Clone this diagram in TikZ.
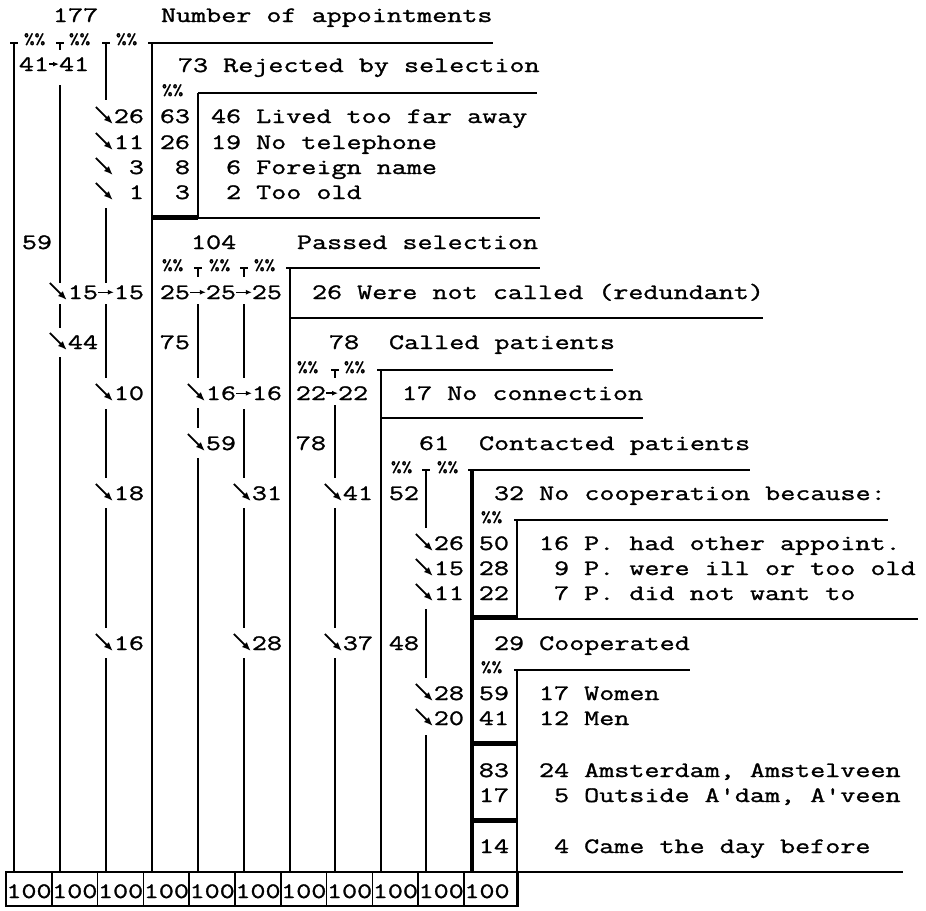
\documentclass[tikz,border=0pt]{standalone}
\usepackage{fontspec}
\usepackage{tikz}
\usetikzlibrary{arrows.meta}
\newfontfamily\tw[FakeStretch=1.33,FakeBold=1.3]{Latin Modern Mono}
\frenchspacing

\begin{document}
\begin{tikzpicture}[x=1pt, y=-1pt,
      tx/.style={inner sep=0, outer sep=0, font=\tw\fontsize{22}{22}\selectfont},
      nm/.style={tx, anchor=base east},
      lb/.style={tx, anchor=base west},
      pc/.style={inner sep=0, outer sep=0, anchor=base west, font=\tw\fontsize{15.5}{15.5}\selectfont},
      ln/.style={line width=2.3pt},
      tk/.style={line width=5pt},
      ar/.style={-{Latex[length=6pt,width=5pt]}, line width=1.5pt},
      da/.style={-{Latex[length=9pt,width=7pt]}, line width=1.8pt}]
  \useasboundingbox (0,0) rectangle (926,910);

  % header and rejected block
  \node[lb] (tot) at (53,22) {177};
  \node[lb] (ttl) at (161,22) {Number of appointments};
  \node[pc] (p0a) at (24,44) {\%\%}; \node[pc] (p0b) at (69,44) {\%\%}; \node[pc] (p0c) at (116,44) {\%\%};
  \node[nm] (a41) at (49,71) {41}; \node[lb] (b41) at (59,71) {41};
  \draw[ar] (a41) -- (b41);
  \node[lb] (rej) at (178,72) {73 Rejected by selection};
  \node[pc] (p1) at (162,95) {\%\%};
  \node[nm] (r26) at (144,123) {26}; \node[nm] (q63) at (190,123) {63}; \node[lb] (liv) at (211,123) {46 Lived too far away};
  \node[nm] (r11) at (144,149) {11}; \node[nm] (q26) at (190,149) {26}; \node[lb] (tel) at (211,149) {19 No telephone};
  \node[nm] (r3) at (144,174) {\hphantom{0}3}; \node[nm] (q8) at (190,174) {8}; \node[lb] (frn) at (211,174) {\hphantom{0}6 Foreign name};
  \node[nm] (r1) at (144,199) {\hphantom{0}1}; \node[nm] (q3) at (190,199) {3}; \node[lb] (old) at (211,199) {\hphantom{0}2 Too old};

  % passed selection
  \node[nm] (s59) at (52,249) {59};
  \node[lb] (pas) at (191,249) {104}; \node[lb] (pasl) at (297,249) {Passed selection};
  \node[pc] (p2a) at (162,270) {\%\%}; \node[pc] (p2b) at (209,270) {\%\%}; \node[pc] (p2c) at (254,270) {\%\%};
  \node[nm] (c15) at (98,299) {15}; \node[nm] (d15) at (144,299) {15};
  \node[nm] (e25) at (190,299) {25}; \node[nm] (f25) at (236,299) {25}; \node[nm] (g25) at (282,299) {25};
  \node[lb] (red) at (312,299) {26 Were not called (redundant)};
  \draw[ar] (c15) -- (d15); \draw[ar] (e25) -- (f25); \draw[ar] (f25) -- (g25);
  \node[nm] (c44) at (98,349) {44}; \node[nm] (e75) at (190,349) {75};
  \node[lb] (cal) at (329,349) {78}; \node[lb] (call) at (389,349) {Called patients};
  \node[pc] (p3a) at (297,372) {\%\%}; \node[pc] (p3b) at (344,372) {\%\%};
  \node[nm] (d10) at (144,400) {10}; \node[nm] (f16) at (236,400) {16}; \node[nm] (g16) at (282,400) {16};
  \node[nm] (h22) at (326,400) {22}; \node[lb] (i22) at (338,400) {22};
  \node[lb] (ncn) at (402,400) {17 No connection};
  \draw[ar] (f16) -- (g16); \draw[ar] (h22) -- (i22);
  \node[nm] (f59) at (236,450) {59}; \node[nm] (h78) at (326,450) {78};
  \node[lb] (con) at (419,450) {61}; \node[lb] (conl) at (479,450) {Contacted patients};
  \node[pc] (p4a) at (391,472) {\%\%}; \node[pc] (p4b) at (437,472) {\%\%};

  % contacted patients
  \node[nm] (d18) at (144,500) {18}; \node[nm] (g31) at (282,500) {31}; \node[nm] (i41) at (373,500) {41}; \node[nm] (j52) at (419,500) {52};
  \node[lb] (noc) at (494,500) {32 No cooperation because:};
  \node[pc] (p5) at (481,522) {\%\%};
  \node[nm] (k26) at (464,550) {26}; \node[nm] (l50) at (509,550) {50}; \node[lb] (oth) at (539,550) {16 P. had other appoint.};
  \node[nm] (k15) at (464,575) {15}; \node[nm] (l28) at (509,575) {28}; \node[lb] (ill) at (539,575) {\hphantom{0}9 P. were ill or too old};
  \node[nm] (k11) at (464,600) {11}; \node[nm] (l22) at (509,600) {22}; \node[lb] (nwt) at (539,600) {\hphantom{0}7 P. did not want to};
  \node[nm] (d16) at (144,650) {16}; \node[nm] (g28) at (282,650) {28}; \node[nm] (i37) at (373,650) {37}; \node[nm] (j48) at (419,650) {48};
  \node[lb] (coo) at (494,650) {29 Cooperated};
  \node[pc] (p6) at (481,672) {\%\%};
  \node[nm] (k28) at (464,700) {28}; \node[nm] (l59) at (509,700) {59}; \node[lb] (wom) at (539,700) {17 Women};
  \node[nm] (k20) at (464,725) {20}; \node[nm] (l41) at (509,725) {41}; \node[lb] (men) at (539,725) {12 Men};
  \node[nm] (l83) at (509,777) {83}; \node[lb] (ams) at (539,777) {24 Amsterdam, Amstelveen};
  \node[nm] (l17) at (509,802) {17}; \node[lb] (out) at (539,802) {\hphantom{0}5 Outside A'dam, A'veen};
  \node[nm] (l14) at (509,853) {14}; \node[lb] (day) at (539,853) {\hphantom{0}4 Came the day before};

  % diagonal arrows off the columns
  \draw[da] (r26.base west) ++(-18,-16) -- ++(17,17); \draw[da] (r11.base west) ++(-18,-16) -- ++(17,17);
  \draw[da] (r3.base west) ++(-18,-16) -- ++(17,17); \draw[da] (r1.base west) ++(-18,-16) -- ++(17,17);
  \draw[da] (c15.base west) ++(-18,-16) -- ++(17,17); \draw[da] (c44.base west) ++(-18,-16) -- ++(17,17);
  \draw[da] (d10.base west) ++(-18,-16) -- ++(17,17); \draw[da] (f16.base west) ++(-18,-16) -- ++(17,17);
  \draw[da] (f59.base west) ++(-18,-16) -- ++(17,17); \draw[da] (d18.base west) ++(-18,-16) -- ++(17,17);
  \draw[da] (g31.base west) ++(-18,-16) -- ++(17,17); \draw[da] (i41.base west) ++(-18,-16) -- ++(17,17);
  \draw[da] (k26.base west) ++(-18,-16) -- ++(17,17); \draw[da] (k15.base west) ++(-18,-16) -- ++(17,17);
  \draw[da] (k11.base west) ++(-18,-16) -- ++(17,17); \draw[da] (d16.base west) ++(-18,-16) -- ++(17,17);
  \draw[da] (g28.base west) ++(-18,-16) -- ++(17,17); \draw[da] (i37.base west) ++(-18,-16) -- ++(17,17);
  \draw[da] (k28.base west) ++(-18,-16) -- ++(17,17); \draw[da] (k20.base west) ++(-18,-16) -- ++(17,17);

  % column lines
  \draw[ln] (14,43) -- (14,872);
  \draw[ln] (60,43) -- (60,50) (60,85) -- (60,283) (60,304) -- (60,328) (60,357) -- (60,872);
  \draw[ln] (106,43) -- (106,100) (106,208) -- (106,283) (106,304) -- (106,378) (106,409) -- (106,478)
            (106,508) -- (106,628) (106,658) -- (106,872);
  \draw[ln] (152,43) -- (152,872);
  \draw[ln] (198,93) -- (198,218) (198,268) -- (198,277) (198,304) -- (198,378) (198,408) -- (198,428) (198,458) -- (198,872);
  \draw[ln] (244,268) -- (244,277) (244,304) -- (244,378) (244,409) -- (244,478) (244,508) -- (244,628) (244,658) -- (244,872);
  \draw[ln] (290,268) -- (290,872);
  \draw[ln] (335,370) -- (335,378) (335,405) -- (335,478) (335,508) -- (335,628) (335,658) -- (335,872);
  \draw[ln] (381,370) -- (381,872);
  \draw[ln] (426,470) -- (426,528) (426,609) -- (426,678) (426,735) -- (426,872);
  \draw[ln, line width=3.2pt] (472,470) -- (472,872);
  \draw[ln] (517,520) -- (517,618) (517,670) -- (517,906);

  % rules and T bars
  \draw[ln] (10,43) -- (18,43) (56,43) -- (64,43) (102,43) -- (110,43) (148,43) -- (493,43);
  \draw[ln] (198,93) -- (537,93);
  \draw[tk] (152,217) -- (198,217); \draw[ln] (152,218) -- (540,218);
  \draw[ln] (194,268) -- (202,268) (240,268) -- (248,268) (286,268) -- (540,268);
  \draw[ln] (290,318) -- (763,318);
  \draw[ln] (331,370) -- (339,370) (377,370) -- (613,370);
  \draw[ln] (381,418) -- (643,418);
  \draw[ln] (422,470) -- (430,470) (468,470) -- (750,470);
  \draw[ln] (514,520) -- (888,520);
  \draw[tk] (472,617) -- (517,617); \draw[ln] (517,619) -- (918,619);
  \draw[ln] (514,670) -- (690,670);
  \draw[tk] (472,743) -- (517,743);
  \draw[tk] (472,820) -- (517,820);
  \draw[ln] (6,872) -- (903,872);

  % hundred-percent row
  \foreach \i in {0,...,10} \node[tx, anchor=base] (h\i) at (29+45.8*\i,898) {100};
  \draw[line width=1.6pt] (6,872) rectangle (518,906);
  \foreach \i in {1,...,10} \draw[line width=1.6pt] (6+45.8*\i,872) -- (6+45.8*\i,906);
\end{tikzpicture}
\end{document}
